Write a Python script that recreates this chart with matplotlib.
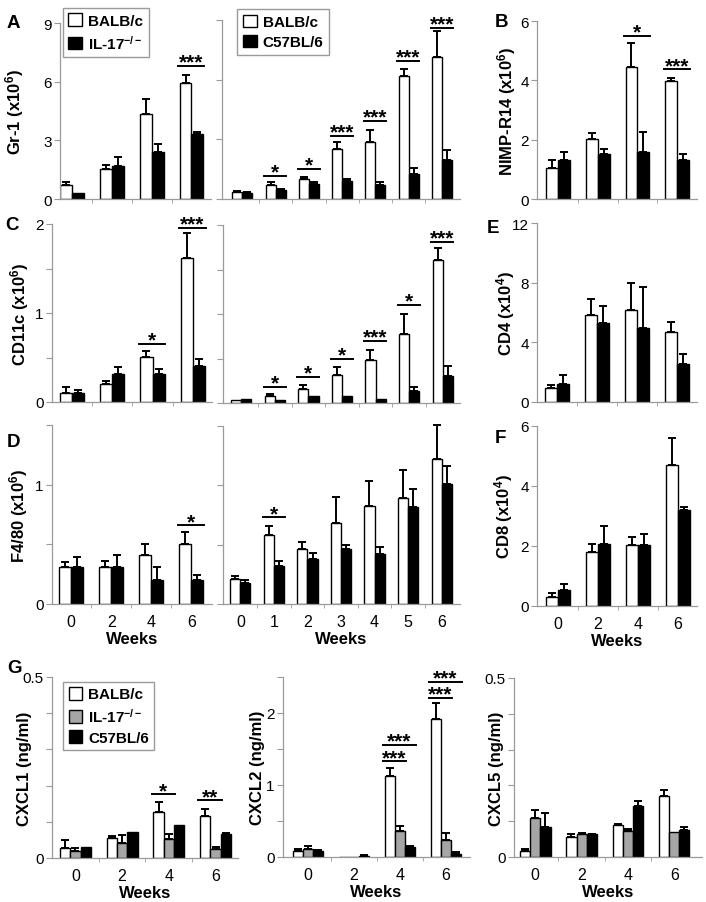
import numpy as np
import matplotlib
matplotlib.use('Agg')
import matplotlib.pyplot as plt
from matplotlib.patches import Patch

plt.rcParams['font.family'] = ['Liberation Sans', 'DejaVu Sans']
plt.rcParams['mathtext.fontset'] = 'custom'
plt.rcParams['mathtext.rm'] = 'Liberation Sans'
plt.rcParams['mathtext.bf'] = 'Liberation Sans:bold'
plt.rcParams['mathtext.it'] = 'Liberation Sans:italic'

# ---- data ----
weeks4 = ['0', '2', '4', '6']
weeks7 = ['0', '1', '2', '3', '4', '5', '6']

gr1_balb = [0.72, 1.53, 4.35, 5.93]
gr1_balb_err = [0.17, 0.23, 0.76, 0.41]
gr1_il17 = [0.31, 1.70, 2.42, 3.34]
gr1_il17_err = [0.0, 0.43, 0.39, 0.07]
gr1_sig = [(3, '***', 6.82)]

gr1t_balb = [0.36, 0.71, 1.00, 2.52, 2.89, 6.18, 7.16]
gr1t_balb_err = [0.05, 0.13, 0.13, 0.37, 0.59, 0.37, 1.28]
gr1t_c57 = [0.30, 0.47, 0.76, 0.92, 0.72, 1.26, 1.97]
gr1t_c57_err = [0.07, 0.04, 0.08, 0.08, 0.12, 0.29, 0.50]
gr1t_sig = [(1, '*', 1.17), (2, '*', 1.51), (3, '***', 3.18), (4, '***', 3.94),
            (5, '***', 6.95), (6, '***', 8.59)]

nimp_balb = [1.03, 2.02, 4.46, 3.98]
nimp_balb_err = [0.29, 0.19, 0.81, 0.10]
nimp_il17 = [1.32, 1.51, 1.59, 1.32]
nimp_il17_err = [0.27, 0.19, 0.67, 0.19]
nimp_sig = [(2, '*', 5.49), (3, '***', 4.37)]

cd11c_balb = [0.105, 0.20, 0.51, 1.62]
cd11c_balb_err = [0.065, 0.04, 0.06, 0.28]
cd11c_il17 = [0.105, 0.31, 0.31, 0.40]
cd11c_il17_err = [0.025, 0.08, 0.06, 0.08]
cd11c_sig = [(2, '*', 0.65), (3, '***', 1.96)]

cd11ct_balb = [0.03, 0.075, 0.16, 0.31, 0.48, 0.78, 1.61]
cd11ct_balb_err = [0.0, 0.025, 0.04, 0.10, 0.11, 0.22, 0.13]
cd11ct_c57 = [0.045, 0.03, 0.075, 0.075, 0.05, 0.13, 0.30]
cd11ct_c57_err = [0.0, 0.0, 0.0, 0.0, 0.0, 0.05, 0.12]
cd11ct_sig = [(1, '*', 0.18), (2, '*', 0.29), (3, '*', 0.50), (4, '***', 0.70),
              (5, '*', 1.10), (6, '***', 1.81)]

cd4_balb = [0.92, 5.85, 6.17, 4.67]
cd4_balb_err = [0.22, 1.06, 1.79, 0.71]
cd4_il17 = [1.23, 5.27, 4.93, 2.58]
cd4_il17_err = [0.59, 1.19, 2.81, 0.67]

f480_balb = [0.31, 0.31, 0.41, 0.50]
f480_balb_err = [0.04, 0.05, 0.09, 0.10]
f480_il17 = [0.31, 0.31, 0.20, 0.20]
f480_il17_err = [0.08, 0.10, 0.11, 0.04]
f480_sig = [(3, '*', 0.66)]

f480t_balb = [0.21, 0.58, 0.46, 0.68, 0.83, 0.89, 1.22]
f480t_balb_err = [0.03, 0.08, 0.06, 0.22, 0.21, 0.24, 0.29]
f480t_c57 = [0.18, 0.32, 0.38, 0.46, 0.42, 0.82, 1.01]
f480t_c57_err = [0.02, 0.04, 0.05, 0.04, 0.06, 0.15, 0.15]
f480t_sig = [(1, '*', 0.73)]

cd8_balb = [0.31, 1.80, 2.02, 4.70]
cd8_balb_err = [0.12, 0.28, 0.28, 0.90]
cd8_il17 = [0.52, 2.08, 2.02, 3.20]
cd8_il17_err = [0.20, 0.59, 0.39, 0.11]

cxcl1_balb = [0.029, 0.056, 0.127, 0.115]
cxcl1_balb_err = [0.020, 0.005, 0.028, 0.021]
cxcl1_il17 = [0.019, 0.041, 0.053, 0.025]
cxcl1_il17_err = [0.010, 0.022, 0.012, 0.005]
cxcl1_c57 = [0.031, 0.071, 0.090, 0.066]
cxcl1_c57_err = [0.0, 0.0, 0.0, 0.002]
cxcl1_sig = [(2, '*', 0.176, 1), (3, '**', 0.159, 1)]

cxcl2_balb = [0.09, 0.005, 1.13, 1.92]
cxcl2_balb_err = [0.02, 0.0, 0.10, 0.22]
cxcl2_il17 = [0.11, 0.005, 0.36, 0.24]
cxcl2_il17_err = [0.04, 0.0, 0.07, 0.09]
cxcl2_c57 = [0.09, 0.02, 0.14, 0.04]
cxcl2_c57_err = [0.01, 0.01, 0.01, 0.03]
cxcl2_sig = [(2, '***', 1.33, 1), (2, '***', 1.56, 2), (3, '***', 2.21, 1), (3, '***', 2.43, 2)]

cxcl5_balb = [0.016, 0.056, 0.090, 0.170]
cxcl5_balb_err = [0.005, 0.007, 0.002, 0.016]
cxcl5_il17 = [0.109, 0.065, 0.073, 0.070]
cxcl5_il17_err = [0.021, 0.002, 0.005, 0.0]
cxcl5_c57 = [0.084, 0.063, 0.142, 0.076]
cxcl5_c57_err = [0.040, 0.001, 0.014, 0.008]

W, H = 706, 903
AXIS_GREY = '#9a9a9a'
fig = plt.figure(figsize=(W / 100, H / 100), dpi=100)


def add_ax(x0, y0, x1, y1):
    # pixel box (top-left origin) -> figure axes
    return fig.add_axes([x0 / W, 1 - y1 / H, (x1 - x0) / W, (y1 - y0) / H])


def panel(ax, cats, series, errs, colors, xlim, ylim, yticks, ylabels,
          sig=(), xlabels=False, bw=0.3):
    n = len(series)
    x = np.arange(len(cats))
    offs = (np.arange(n) - (n - 1) / 2) * bw
    for vals, err, col, off in zip(series, errs, colors, offs):
        ax.bar(x + off, vals, bw, color=col, edgecolor='black', linewidth=1.0, zorder=2)
        err = np.array(err)
        m = err > 0
        ax.errorbar((x + off)[m], np.array(vals)[m], yerr=[np.zeros(m.sum()), err[m]],
                    fmt='none', ecolor='black', elinewidth=1.4, capsize=2.6,
                    capthick=1.4, zorder=3, clip_on=False)
    for s in sig:
        g, stars, yv = s[0], s[1], s[2]
        last = s[3] if len(s) > 3 else n - 1
        xa = g + offs[0] - bw / 2 - 0.04
        xb = g + offs[last] + bw / 2 + 0.02
        ax.plot([xa, xb], [yv, yv], color='black', lw=1.4, clip_on=False, zorder=4)
        ax.annotate(stars, xy=((xa + xb) / 2, yv), xytext=(0, -1.2),
                    textcoords='offset points', ha='center', va='baseline',
                    fontsize=15, fontweight='bold', annotation_clip=False)
    ax.set_xlim(*xlim)
    ax.set_ylim(*ylim)
    for sp in ['top', 'right']:
        ax.spines[sp].set_visible(False)
    for sp in ['left', 'bottom']:
        ax.spines[sp].set_color(AXIS_GREY)
        ax.spines[sp].set_linewidth(0.9)
    ax.set_yticks(yticks)
    ax.set_yticklabels(ylabels)
    ax.tick_params(axis='y', direction='out', length=4, color=AXIS_GREY,
                   labelsize=11, pad=2)
    ax.set_xticks(np.arange(len(cats) - 1) + 0.5, minor=True)
    ax.tick_params(axis='x', which='minor', direction='out', length=3, color=AXIS_GREY)
    ax.set_xticks(x)
    if xlabels:
        ax.set_xticklabels(cats)
        ax.tick_params(axis='x', which='major', length=0, labelsize=11.5, pad=7)
        ax.set_xlabel('Weeks', fontsize=12, fontweight='bold', labelpad=2)
    else:
        ax.set_xticklabels([])
        ax.tick_params(axis='x', which='major', length=0)


def ylab(ax, text, xpix):
    # xpix: right edge of the rotated label, in pixels
    ax.set_ylabel(text, fontsize=12, fontweight='bold')
    bb = ax.get_position()
    ax.yaxis.set_label_coords((xpix / W - bb.x0) / bb.width, 0.5)


def legend(ax, labels, colors, anchor):
    ax.legend(handles=[Patch(facecolor=c, edgecolor='black', label=l)
                       for l, c in zip(labels, colors)],
              loc='upper left', bbox_to_anchor=anchor, fancybox=False,
              edgecolor=AXIS_GREY, framealpha=1, prop={'weight': 'bold', 'size': 11},
              handlelength=0.9, handleheight=0.9, handletextpad=0.4, borderpad=0.35,
              labelspacing=0.35, borderaxespad=0)


wb = ['white', 'black']
wgb = ['white', '#a6a6a6', 'black']
il17 = r'IL-17$^{\mathbf{-/-}}$'

# ---- row 1 ----
ax = add_ax(60, 24, 211, 200)
panel(ax, weeks4, [gr1_balb, gr1_il17], [gr1_balb_err, gr1_il17_err], wb,
      (-0.3, 3.49), (0, 9), [0, 3, 6, 9], ['0', '3', '6', '9'], gr1_sig)
ylab(ax, r'Gr-1 (x10$^{\mathbf{6}}$)', 26)
legend(ax, ['BALB/c', il17], wb, (0.02, 1.085))

ax = add_ax(222, 21, 460, 200)
panel(ax, weeks7, [gr1t_balb, gr1t_c57], [gr1t_balb_err, gr1t_c57_err], wb,
      (-0.61, 6.54), (0, 9), [0, 3, 6, 9], [''] * 4, gr1t_sig)
legend(ax, ['BALB/c', 'C57BL/6'], wb, (0.065, 1.06))

ax = add_ax(537, 22, 697, 200)
panel(ax, weeks4, [nimp_balb, nimp_il17], [nimp_balb_err, nimp_il17_err], wb,
      (-0.53, 3.5), (0, 6), [0, 2, 4, 6], ['0', '2', '4', '6'], nimp_sig)
ylab(ax, r'NIMP-R14 (x10$^{\mathbf{6}}$)', 518)

# ---- row 2 ----
ax = add_ax(52, 225, 212, 403)
panel(ax, weeks4, [cd11c_balb, cd11c_il17], [cd11c_balb_err, cd11c_il17_err], wb,
      (-0.5, 3.48), (0, 2), [0, 0.5, 1, 1.5, 2], ['0', '', '1', '', '2'], cd11c_sig)
ylab(ax, r'CD11c (x10$^{\mathbf{6}}$)', 31)

ax = add_ax(223, 226, 460, 404)
panel(ax, weeks7, [cd11ct_balb, cd11ct_c57], [cd11ct_balb_err, cd11ct_c57_err], wb,
      (-0.55, 6.52), (0, 2), [0, 0.5, 1, 1.5, 2], [''] * 5, cd11ct_sig)

ax = add_ax(537, 224, 697, 403)
panel(ax, weeks4, [cd4_balb, cd4_il17], [cd4_balb_err, cd4_il17_err], wb,
      (-0.5, 3.5), (0, 12), [0, 4, 8, 12], ['0', '4', '8', '12'])
ylab(ax, r'CD4 (x10$^{\mathbf{4}}$)', 517)

# ---- row 3 ----
ax = add_ax(52, 426, 212, 605)
panel(ax, weeks4, [f480_balb, f480_il17], [f480_balb_err, f480_il17_err], wb,
      (-0.48, 3.52), (0, 1.5), [0, 0.5, 1, 1.5], ['0', '', '1', ''], f480_sig, xlabels=True)
ylab(ax, r'F4/80 (x10$^{\mathbf{6}}$)', 30)

ax = add_ax(223, 427, 460, 605)
panel(ax, weeks7, [f480t_balb, f480t_c57], [f480t_balb_err, f480t_c57_err], wb,
      (-0.52, 6.55), (0, 1.5), [0, 0.5, 1, 1.5], [''] * 4, f480t_sig, xlabels=True)

ax = add_ax(537, 427, 697, 607)
panel(ax, weeks4, [cd8_balb, cd8_il17], [cd8_balb_err, cd8_il17_err], wb,
      (-0.52, 3.48), (0, 6), [0, 2, 4, 6], ['0', '2', '4', '6'], xlabels=True)
ylab(ax, r'CD8 (x10$^{\mathbf{4}}$)', 515)

# ---- row 4 ----
t01 = [0, 0.1, 0.2, 0.3, 0.4, 0.5]
ax = add_ax(52, 678, 238, 859)
panel(ax, weeks4, [cxcl1_balb, cxcl1_il17, cxcl1_c57],
      [cxcl1_balb_err, cxcl1_il17_err, cxcl1_c57_err], wgb,
      (-0.5, 3.48), (0, 0.5), t01, ['0', '', '', '', '', '0.5'], cxcl1_sig,
      xlabels=True, bw=0.22)
ylab(ax, 'CXCL1 (ng/ml)', 32)
legend(ax, ['BALB/c', il17, 'C57BL/6'], wgb, (0.06, 0.975))

ax = add_ax(283, 678, 470, 858)
panel(ax, weeks4, [cxcl2_balb, cxcl2_il17, cxcl2_c57],
      [cxcl2_balb_err, cxcl2_il17_err, cxcl2_c57_err], wgb,
      (-0.54, 3.52), (0, 2.5), [0, 0.5, 1, 1.5, 2, 2.5], ['0', '', '1', '', '2', ''],
      cxcl2_sig, xlabels=True, bw=0.22)
ylab(ax, 'CXCL2 (ng/ml)', 265)

ax = add_ax(514, 679, 702, 858)
panel(ax, weeks4, [cxcl5_balb, cxcl5_il17, cxcl5_c57],
      [cxcl5_balb_err, cxcl5_il17_err, cxcl5_c57_err], wgb,
      (-0.46, 3.6), (0, 0.5), t01, ['0', '', '', '', '', '0.5'], xlabels=True, bw=0.22)
ylab(ax, 'CXCL5 (ng/ml)', 504)

# ---- panel letters ----
for letter, px, py in [('A', 7, 28), ('B', 495, 27), ('C', 5, 230), ('E', 487, 233),
                       ('D', 7, 447), ('F', 495, 443), ('G', 7, 673)]:
    fig.text(px / W, 1 - py / H, letter, fontsize=13.5, fontweight='bold',
             ha='left', va='baseline')

fig.savefig('out.png', dpi=100)
